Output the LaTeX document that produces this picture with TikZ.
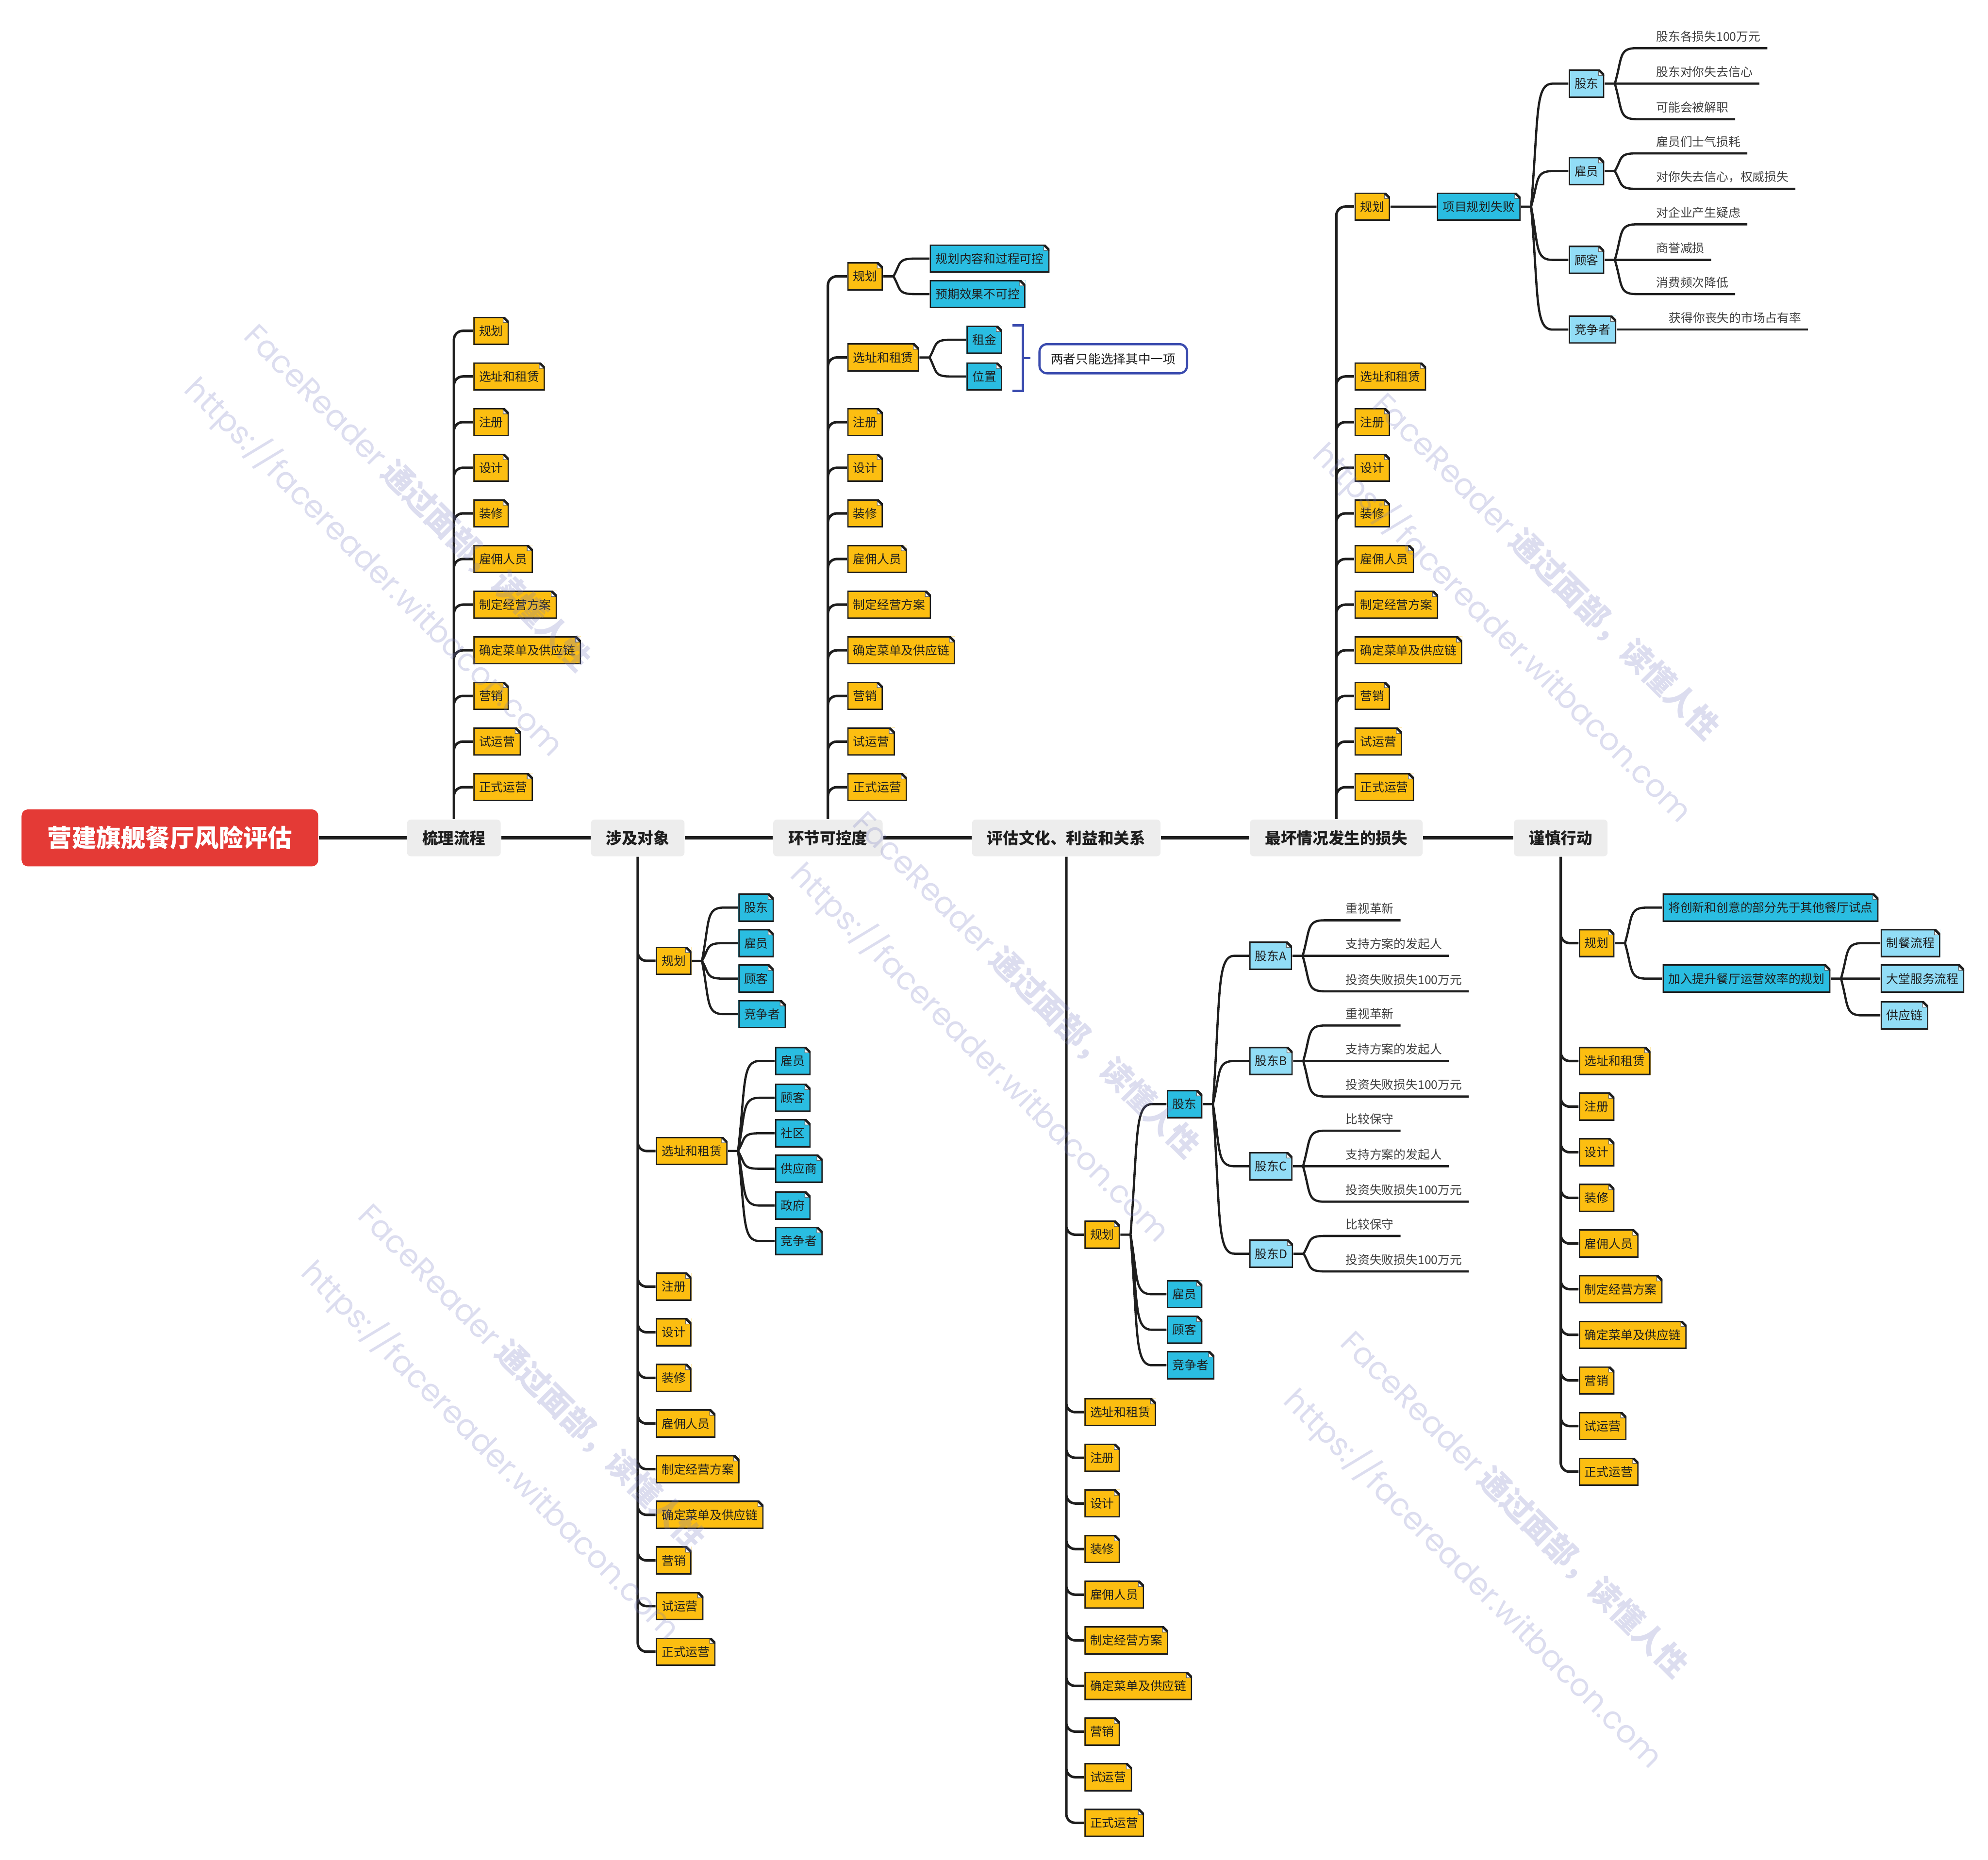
\documentclass[tikz,border=0pt]{standalone}
\usepackage{fontspec}
\setmainfont{Noto Sans CJK SC}
\newfontfamily\wmlatin{Poppins}
\usetikzlibrary{positioning,calc}
\definecolor{mmyel}{HTML}{FCBE11}
\definecolor{mmcyn}{HTML}{2ABDE1}
\definecolor{mmlcy}{HTML}{92DDF6}
\definecolor{mmred}{HTML}{E43A36}
\definecolor{mmgry}{HTML}{EDEDED}
\definecolor{mmink}{HTML}{1E1E1E}
\definecolor{mmblu}{HTML}{3A4BAE}
\definecolor{mmwm}{HTML}{767AC0}
\def\earsz{0.09cm}
\tikzset{
  root/.style   ={rectangle, rounded corners=0.1cm, fill=mmred, text=white,
                  font=\fontsize{11}{13}\selectfont\bfseries,
                  minimum width=4.68cm, minimum height=0.9cm},
  topic/.style  ={rectangle, rounded corners=0.06cm, fill=mmgry, text=mmink,
                  font=\fontsize{7.1}{8.5}\selectfont\bfseries,
                  inner xsep=0.24cm, minimum height=0.58cm},
  note/.style   ={rectangle, anchor=west, inner xsep=0.09cm, inner ysep=0pt,
                  minimum height=0.44cm, text=mmink, font=\fontsize{5.4}{6.5}\selectfont,
                  path picture={
                    \fill[white] ([xshift=-\earsz]path picture bounding box.north east)
                      -- (path picture bounding box.north east)
                      -- ([yshift=-\earsz]path picture bounding box.north east) -- cycle;
                    \filldraw[fill=white, draw=black!60, line width=0.3pt]
                      ([xshift=-\earsz]path picture bounding box.north east)
                      -- ([xshift=-\earsz,yshift=-\earsz]path picture bounding box.north east)
                      -- ([yshift=-\earsz]path picture bounding box.north east) -- cycle;
                    \draw[mmink, line width=1.1pt] (path picture bounding box.south west)
                      -- (path picture bounding box.south east)
                      -- ([yshift=-\earsz]path picture bounding box.north east)
                      -- ([xshift=-\earsz]path picture bounding box.north east)
                      -- (path picture bounding box.north west) -- cycle;}},
  yel/.style    ={note, fill=mmyel},
  cyn/.style    ={note, fill=mmcyn},
  lcy/.style    ={note, fill=mmlcy},
  leaf/.style   ={anchor=south west, inner xsep=0.1cm, inner ysep=0.09cm,
                  text=mmink!85, font=\fontsize{5.4}{6.5}\selectfont},
  callout/.style={rectangle, anchor=west, rounded corners=0.12cm, draw=mmblu,
                  line width=0.035cm, fill=white, text=mmink, inner xsep=0.18cm,
                  minimum height=0.46cm, font=\fontsize{5.6}{6.7}\selectfont},
  spine/.style  ={draw=mmink, line width=0.05cm},
  br/.style     ={draw=mmink, line width=0.04cm, rounded corners=0.14cm},
  fk/.style     ={draw=mmink, line width=0.035cm,
                  to path={-- ++(8,0) coordinate (fkp)
                    .. controls ($(fkp)!0.75!(fkp |- \tikztotarget)+(6,0)$)
                    and ($(fkp |- \tikztotarget)+(3,0)$)
                    .. ($(fkp |- \tikztotarget)+(17,0)$) -- (\tikztotarget)}},
  brk/.style    ={draw=mmblu, line width=0.035cm},
  wm/.style     ={text=mmwm, opacity=0.26, rotate=-45, anchor=west, inner sep=0pt,
                  font=\fontsize{14}{16}\selectfont}
}

\begin{document}
\begin{tikzpicture}[x=0.02cm, y=-0.02cm]
  \useasboundingbox (0,0) rectangle (1568,1467);

  % spine
  \node[root] (root) at (134,661) {营建旗舰餐厅风险评估};
  \node[topic] (lc) at (358,661) {梳理流程};
  \node[topic] (dx) at (503,661) {涉及对象};
  \node[topic] (kk) at (653,661) {环节可控度};
  \node[topic] (pg) at (841,661) {评估文化、利益和关系};
  \node[topic] (ss) at (1054,661) {最坏情况发生的损失};
  \node[topic] (xd) at (1231,661) {谨慎行动};
  \draw[spine] (root) -- (lc) -- (dx) -- (kk) -- (pg) -- (ss) -- (xd);

  % 梳理流程
  \node[yel] (lcgh) at (373,261) {规划};
  \node[yel] (lcxz) at (373,297) {选址和租赁};
  \node[yel] (lczc) at (373,333) {注册};
  \node[yel] (lcsj) at (373,369) {设计};
  \node[yel] (lczx) at (373,405) {装修};
  \node[yel] (lcgy) at (373,441) {雇佣人员};
  \node[yel] (lcfa) at (373,477) {制定经营方案};
  \node[yel] (lccd) at (373,513) {确定菜单及供应链};
  \node[yel] (lcyx) at (373,549) {营销};
  \node[yel] (lcsy) at (373,585) {试运营};
  \node[yel] (lczs) at (373,621) {正式运营};
  \draw[br] (lc.north) |- (lcgh.west) (lc.north) |- (lcxz.west) (lc.north) |- (lczc.west)
    (lc.north) |- (lcsj.west) (lc.north) |- (lczx.west) (lc.north) |- (lcgy.west)
    (lc.north) |- (lcfa.west) (lc.north) |- (lccd.west) (lc.north) |- (lcyx.west)
    (lc.north) |- (lcsy.west) (lc.north) |- (lczs.west);

  % 涉及对象
  \node[yel] (dxgh) at (517,758) {规划};
  \node[yel] (dxxz) at (517,908) {选址和租赁};
  \node[yel] (dxzc) at (517,1015) {注册};
  \node[yel] (dxsj) at (517,1051) {设计};
  \node[yel] (dxzx) at (517,1087) {装修};
  \node[yel] (dxgy) at (517,1123) {雇佣人员};
  \node[yel] (dxfa) at (517,1159) {制定经营方案};
  \node[yel] (dxcd) at (517,1195) {确定菜单及供应链};
  \node[yel] (dxyx) at (517,1231) {营销};
  \node[yel] (dxsy) at (517,1267) {试运营};
  \node[yel] (dxzs) at (517,1303) {正式运营};
  \draw[br] (dx.south) |- (dxgh.west) (dx.south) |- (dxxz.west) (dx.south) |- (dxzc.west)
    (dx.south) |- (dxsj.west) (dx.south) |- (dxzx.west) (dx.south) |- (dxgy.west)
    (dx.south) |- (dxfa.west) (dx.south) |- (dxcd.west) (dx.south) |- (dxyx.west)
    (dx.south) |- (dxsy.west) (dx.south) |- (dxzs.west);
  \node[cyn] (dxgh1) at (582,716) {股东};
  \node[cyn] (dxgh2) at (582,744) {雇员};
  \node[cyn] (dxgh3) at (582,772) {顾客};
  \node[cyn] (dxgh4) at (582,800) {竞争者};
  \draw[fk] (dxgh.east) to (dxgh1.west) (dxgh.east) to (dxgh2.west)
    (dxgh.east) to (dxgh3.west) (dxgh.east) to (dxgh4.west);
  \node[cyn] (dxxz1) at (611,837) {雇员};
  \node[cyn] (dxxz2) at (611,866) {顾客};
  \node[cyn] (dxxz3) at (611,894) {社区};
  \node[cyn] (dxxz4) at (611,922) {供应商};
  \node[cyn] (dxxz5) at (611,951) {政府};
  \node[cyn] (dxxz6) at (611,979) {竞争者};
  \draw[fk] (dxxz.east) to (dxxz1.west) (dxxz.east) to (dxxz2.west) (dxxz.east) to (dxxz3.west)
    (dxxz.east) to (dxxz4.west) (dxxz.east) to (dxxz5.west) (dxxz.east) to (dxxz6.west);

  % 环节可控度
  \node[yel] (kkgh) at (668,218) {规划};
  \node[yel] (kkxz) at (668,282) {选址和租赁};
  \node[yel] (kkzc) at (668,333) {注册};
  \node[yel] (kksj) at (668,369) {设计};
  \node[yel] (kkzx) at (668,405) {装修};
  \node[yel] (kkgy) at (668,441) {雇佣人员};
  \node[yel] (kkfa) at (668,477) {制定经营方案};
  \node[yel] (kkcd) at (668,513) {确定菜单及供应链};
  \node[yel] (kkyx) at (668,549) {营销};
  \node[yel] (kksy) at (668,585) {试运营};
  \node[yel] (kkzs) at (668,621) {正式运营};
  \draw[br] (kk.north) |- (kkgh.west) (kk.north) |- (kkxz.west) (kk.north) |- (kkzc.west)
    (kk.north) |- (kksj.west) (kk.north) |- (kkzx.west) (kk.north) |- (kkgy.west)
    (kk.north) |- (kkfa.west) (kk.north) |- (kkcd.west) (kk.north) |- (kkyx.west)
    (kk.north) |- (kksy.west) (kk.north) |- (kkzs.west);
  \node[cyn] (kkgh1) at (733,204) {规划内容和过程可控};
  \node[cyn] (kkgh2) at (733,232) {预期效果不可控};
  \draw[fk] (kkgh.east) to (kkgh1.west) (kkgh.east) to (kkgh2.west);
  \node[cyn] (kkzj) at (762,268) {租金};
  \node[cyn] (kkwz) at (762,297) {位置};
  \draw[fk] (kkxz.east) to (kkzj.west) (kkxz.east) to (kkwz.west);
  \draw[brk] ($(kkzj.north east)+(8,0)$) -- ++(8,0) |- ($(kkwz.south east)+(8,0)$);
  \coordinate (kkmid) at ($(kkzj.north east)!0.5!(kkwz.south east)+(16,0)$);
  \draw[brk] (kkmid) -- ++(6,0);
  \node[callout] (kknote) at (819,283) {两者只能选择其中一项};

  % 评估文化、利益和关系
  \node[yel] (pggh) at (855,974) {规划};
  \node[yel] (pgxz) at (855,1114) {选址和租赁};
  \node[yel] (pgzc) at (855,1150) {注册};
  \node[yel] (pgsj) at (855,1186) {设计};
  \node[yel] (pgzx) at (855,1222) {装修};
  \node[yel] (pggy) at (855,1258) {雇佣人员};
  \node[yel] (pgfa) at (855,1294) {制定经营方案};
  \node[yel] (pgcd) at (855,1330) {确定菜单及供应链};
  \node[yel] (pgyx) at (855,1366) {营销};
  \node[yel] (pgsy) at (855,1402) {试运营};
  \node[yel] (pgzs) at (855,1438) {正式运营};
  \draw[br] (pg.south) |- (pggh.west) (pg.south) |- (pgxz.west) (pg.south) |- (pgzc.west)
    (pg.south) |- (pgsj.west) (pg.south) |- (pgzx.west) (pg.south) |- (pggy.west)
    (pg.south) |- (pgfa.west) (pg.south) |- (pgcd.west) (pg.south) |- (pgyx.west)
    (pg.south) |- (pgsy.west) (pg.south) |- (pgzs.west);
  \node[cyn] (pggd) at (920,871) {股东};
  \node[cyn] (pgyg) at (920,1021) {雇员};
  \node[cyn] (pggk) at (920,1049) {顾客};
  \node[cyn] (pgjz) at (920,1077) {竞争者};
  \draw[fk] (pggh.east) to (pggd.west) (pggh.east) to (pgyg.west)
    (pggh.east) to (pggk.west) (pggh.east) to (pgjz.west);
  \node[lcy] (pgA) at (985,754) {股东A};
  \node[lcy] (pgB) at (985,837) {股东B};
  \node[lcy] (pgC) at (985,920) {股东C};
  \node[lcy] (pgD) at (985,989) {股东D};
  \draw[fk] (pggd.east) to (pgA.west) (pggd.east) to (pgB.west)
    (pggd.east) to (pgC.west) (pggd.east) to (pgD.west);
  \node[leaf] (pgA1) at (1056,726) {重视革新};
  \node[leaf] (pgA2) at (1056,754) {支持方案的发起人};
  \node[leaf] (pgA3) at (1056,782) {投资失败损失100万元};
  \node[leaf] (pgB1) at (1056,809) {重视革新};
  \node[leaf] (pgB2) at (1056,837) {支持方案的发起人};
  \node[leaf] (pgB3) at (1056,865) {投资失败损失100万元};
  \node[leaf] (pgC1) at (1056,892) {比较保守};
  \node[leaf] (pgC2) at (1056,920) {支持方案的发起人};
  \node[leaf] (pgC3) at (1056,948) {投资失败损失100万元};
  \node[leaf] (pgD1) at (1056,975) {比较保守};
  \node[leaf] (pgD2) at (1056,1003) {投资失败损失100万元};
  \draw[fk] (pgA.east) to (pgA1.south west) -- (pgA1.south east)
    (pgA.east) to (pgA2.south west) -- (pgA2.south east)
    (pgA.east) to (pgA3.south west) -- (pgA3.south east);
  \draw[fk] (pgB.east) to (pgB1.south west) -- (pgB1.south east)
    (pgB.east) to (pgB2.south west) -- (pgB2.south east)
    (pgB.east) to (pgB3.south west) -- (pgB3.south east);
  \draw[fk] (pgC.east) to (pgC1.south west) -- (pgC1.south east)
    (pgC.east) to (pgC2.south west) -- (pgC2.south east)
    (pgC.east) to (pgC3.south west) -- (pgC3.south east);
  \draw[fk] (pgD.east) to (pgD1.south west) -- (pgD1.south east)
    (pgD.east) to (pgD2.south west) -- (pgD2.south east);

  % 最坏情况发生的损失
  \node[yel] (ssgh) at (1068,163) {规划};
  \node[yel] (ssxz) at (1068,297) {选址和租赁};
  \node[yel] (sszc) at (1068,333) {注册};
  \node[yel] (sssj) at (1068,369) {设计};
  \node[yel] (sszx) at (1068,405) {装修};
  \node[yel] (ssgy) at (1068,441) {雇佣人员};
  \node[yel] (ssfa) at (1068,477) {制定经营方案};
  \node[yel] (sscd) at (1068,513) {确定菜单及供应链};
  \node[yel] (ssyx) at (1068,549) {营销};
  \node[yel] (sssy) at (1068,585) {试运营};
  \node[yel] (sszs) at (1068,621) {正式运营};
  \draw[br] (ss.north) |- (ssgh.west) (ss.north) |- (ssxz.west) (ss.north) |- (sszc.west)
    (ss.north) |- (sssj.west) (ss.north) |- (sszx.west) (ss.north) |- (ssgy.west)
    (ss.north) |- (ssfa.west) (ss.north) |- (sscd.west) (ss.north) |- (ssyx.west)
    (ss.north) |- (sssy.west) (ss.north) |- (sszs.west);
  \node[cyn] (sssb) at (1133,163) {项目规划失败};
  \draw[fk] (ssgh.east) to (sssb.west);
  \node[lcy] (ssgd) at (1237,66) {股东};
  \node[lcy] (ssyg) at (1237,135) {雇员};
  \node[lcy] (ssgk) at (1237,205) {顾客};
  \node[lcy] (ssjz) at (1237,260) {竞争者};
  \draw[fk] (sssb.east) to (ssgd.west) (sssb.east) to (ssyg.west)
    (sssb.east) to (ssgk.west) (sssb.east) to (ssjz.west);
  \node[leaf] (ssgd1) at (1301,38) {股东各损失100万元};
  \node[leaf] (ssgd2) at (1301,66) {股东对你失去信心};
  \node[leaf] (ssgd3) at (1301,94) {可能会被解职};
  \node[leaf] (ssyg1) at (1301,121) {雇员们士气损耗};
  \node[leaf] (ssyg2) at (1301,149) {对你失去信心，权威损失};
  \node[leaf] (ssgk1) at (1301,177) {对企业产生疑虑};
  \node[leaf] (ssgk2) at (1301,205) {商誉减损};
  \node[leaf] (ssgk3) at (1301,232) {消费频次降低};
  \node[leaf] (ssjz1) at (1311,260) {获得你丧失的市场占有率};
  \draw[fk] (ssgd.east) to (ssgd1.south west) -- (ssgd1.south east)
    (ssgd.east) to (ssgd2.south west) -- (ssgd2.south east)
    (ssgd.east) to (ssgd3.south west) -- (ssgd3.south east);
  \draw[fk] (ssyg.east) to (ssyg1.south west) -- (ssyg1.south east)
    (ssyg.east) to (ssyg2.south west) -- (ssyg2.south east);
  \draw[fk] (ssgk.east) to (ssgk1.south west) -- (ssgk1.south east)
    (ssgk.east) to (ssgk2.south west) -- (ssgk2.south east)
    (ssgk.east) to (ssgk3.south west) -- (ssgk3.south east);
  \draw[fk] (ssjz.east) to (ssjz1.south west) -- (ssjz1.south east);

  % 谨慎行动
  \node[yel] (xdgh) at (1245,744) {规划};
  \node[yel] (xdxz) at (1245,837) {选址和租赁};
  \node[yel] (xdzc) at (1245,873) {注册};
  \node[yel] (xdsj) at (1245,909) {设计};
  \node[yel] (xdzx) at (1245,945) {装修};
  \node[yel] (xdgy) at (1245,981) {雇佣人员};
  \node[yel] (xdfa) at (1245,1017) {制定经营方案};
  \node[yel] (xdcd) at (1245,1053) {确定菜单及供应链};
  \node[yel] (xdyx) at (1245,1089) {营销};
  \node[yel] (xdsy) at (1245,1125) {试运营};
  \node[yel] (xdzs) at (1245,1161) {正式运营};
  \draw[br] (xd.south) |- (xdgh.west) (xd.south) |- (xdxz.west) (xd.south) |- (xdzc.west)
    (xd.south) |- (xdsj.west) (xd.south) |- (xdzx.west) (xd.south) |- (xdgy.west)
    (xd.south) |- (xdfa.west) (xd.south) |- (xdcd.west) (xd.south) |- (xdyx.west)
    (xd.south) |- (xdsy.west) (xd.south) |- (xdzs.west);
  \node[cyn] (xdgh1) at (1311,716) {将创新和创意的部分先于其他餐厅试点};
  \node[cyn] (xdgh2) at (1311,772) {加入提升餐厅运营效率的规划};
  \draw[fk] (xdgh.east) to (xdgh1.west) (xdgh.east) to (xdgh2.west);
  \node[lcy] (xdzl) at (1483,744) {制餐流程};
  \node[lcy] (xdfw) at (1483,772) {大堂服务流程};
  \node[lcy] (xdgl) at (1483,801) {供应链};
  \draw[fk] (xdgh2.east) to (xdzl.west) (xdgh2.east) to (xdfw.west) (xdgh2.east) to (xdgl.west);

  % watermark
  \node[wm] (wm1a) at (197,260) {{\wmlatin FaceReader} \textbf{通过面部，读懂人性}};
  \node[wm] (wm1b) at (150,302) {\wmlatin https://facereader.witbacon.com};
  \node[wm] (wm2a) at (1087,314) {{\wmlatin FaceReader} \textbf{通过面部，读懂人性}};
  \node[wm] (wm2b) at (1040,354) {\wmlatin https://facereader.witbacon.com};
  \node[wm] (wm3a) at (677,644) {{\wmlatin FaceReader} \textbf{通过面部，读懂人性}};
  \node[wm] (wm3b) at (628,685) {\wmlatin https://facereader.witbacon.com};
  \node[wm] (wm4a) at (287,954) {{\wmlatin FaceReader} \textbf{通过面部，读懂人性}};
  \node[wm] (wm4b) at (242,999) {\wmlatin https://facereader.witbacon.com};
  \node[wm] (wm5a) at (1062,1054) {{\wmlatin FaceReader} \textbf{通过面部，读懂人性}};
  \node[wm] (wm5b) at (1017,1100) {\wmlatin https://facereader.witbacon.com};
\end{tikzpicture}
\end{document}
